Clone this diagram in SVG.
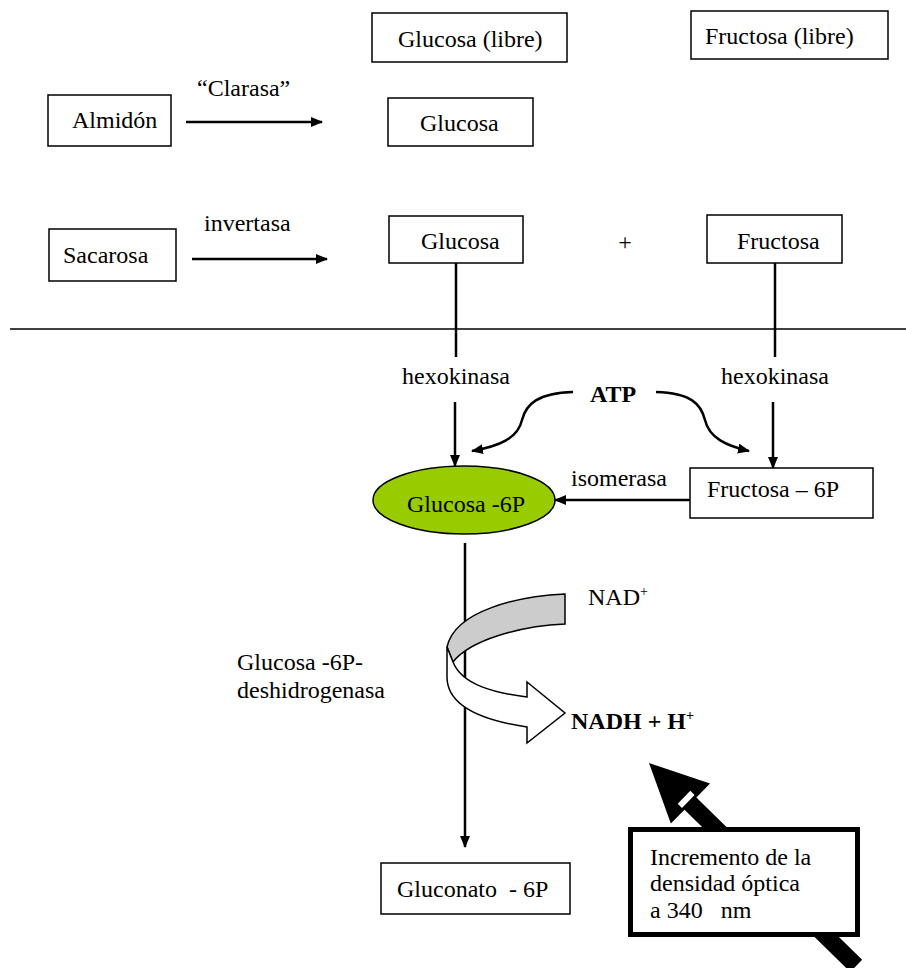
<svg xmlns="http://www.w3.org/2000/svg" width="906" height="968" viewBox="0 0 906 968">
<defs>
<style>
.t{font-family:"Liberation Serif","Times New Roman",serif;font-size:24px;fill:#000}
.b{font-weight:bold}
.box{fill:#fff;stroke:#000;stroke-width:1.5}
.ln{fill:none;stroke:#000;stroke-width:2.5}
.thin{fill:none;stroke:#000;stroke-width:1.5}
</style>
<marker id="ah" viewBox="0 0 12 10" refX="11" refY="5" markerWidth="12" markerHeight="10" markerUnits="userSpaceOnUse" orient="auto">
<path d="M0,0 L12,5 L0,10 Z" fill="#000"/>
</marker>
</defs>
<rect width="906" height="968" fill="#fff"/>

<g id="glucosa-libre"><rect class="box" x="372" y="13" width="195" height="49"/><text class="t" x="398" y="47">Glucosa (libre)</text></g>
<g id="fructosa-libre"><rect class="box" x="691" y="11" width="197" height="48"/><text class="t" x="705" y="44">Fructosa (libre)</text></g>
<g id="almidon"><rect class="box" x="48" y="95" width="123" height="51"/><text class="t" x="72" y="128">Almidón</text></g>
<g id="glucosa1"><rect class="box" x="388" y="98" width="145" height="48"/><text class="t" x="420" y="131">Glucosa</text></g>
<g id="sacarosa"><rect class="box" x="49" y="229" width="127" height="52"/><text class="t" x="63" y="263">Sacarosa</text></g>
<g id="glucosa2"><rect class="box" x="389" y="216" width="134" height="47"/><text class="t" x="421" y="249">Glucosa</text></g>
<g id="plus"><text class="t" x="625" y="250" text-anchor="middle">+</text></g>
<g id="fructosa2"><rect class="box" x="707" y="215" width="135" height="48"/><text class="t" x="737" y="249">Fructosa</text></g>
<g id="atp"><text class="t b" x="613" y="402" text-anchor="middle">ATP</text></g>
<g id="glucosa6p"><ellipse cx="464" cy="500" rx="91" ry="34" fill="#99CC00" stroke="#000" stroke-width="1.5"/><text class="t" x="466" y="512" text-anchor="middle">Glucosa -6P</text></g>
<g id="fructosa6p"><rect class="box" x="690" y="468" width="183" height="50"/><text class="t" x="707" y="497">Fructosa – 6P</text></g>
<g id="nadplus"><text class="t" x="588" y="605">NAD<tspan font-size="14" dy="-9">+</tspan></text></g>
<g id="nadh"><text class="t b" x="571" y="729" font-size="23">NADH + H<tspan font-size="14" dy="-9">+</tspan></text></g>
<g id="gluconato"><rect class="box" x="381" y="863" width="189" height="51"/><text class="t" x="397" y="897" xml:space="preserve">Gluconato  - 6P</text></g>

<g id="labels">
<text class="t" x="197" y="96">“Clarasa”</text>
<text class="t" x="204" y="231">invertasa</text>
<text class="t" x="456" y="384" text-anchor="middle">hexokinasa</text>
<text class="t" x="775" y="384" text-anchor="middle">hexokinasa</text>
<text class="t" x="571" y="486">isomerasa</text>
<text class="t" x="237" y="670">Glucosa -6P-</text>
<text class="t" x="237" y="698">deshidrogenasa</text>
</g>

<g id="connectors">
<line x1="10" y1="329" x2="906" y2="329" class="thin"/>
<line x1="186" y1="122" x2="322" y2="122" class="ln" marker-end="url(#ah)"/>
<line x1="192" y1="259" x2="327" y2="259" class="ln" marker-end="url(#ah)"/>
<line x1="456" y1="263" x2="456" y2="357" class="ln"/>
<line x1="775" y1="263" x2="775" y2="357" class="ln"/>
<line x1="455" y1="402" x2="455" y2="466" class="ln" marker-end="url(#ah)"/>
<line x1="773" y1="402" x2="773" y2="468" class="ln" marker-end="url(#ah)"/>
<path d="M573,392 C538,393 526,404 522,420 C518,438 500,446 472,451" class="ln" marker-end="url(#ah)"/>
<path d="M656,392 C691,393 701,404 705,420 C709,438 727,446 749,451" class="ln" marker-end="url(#ah)"/>
<line x1="690" y1="500" x2="555" y2="500" class="ln" marker-end="url(#ah)"/>
<line x1="465" y1="543" x2="465" y2="847" class="ln" marker-end="url(#ah)"/>
</g>

<g id="nad-arrow">
<path d="M565,594 C520,596 455,610 447,647 L453,662 C470,640 520,626 565,624 Z" fill="#ccc" stroke="#000" stroke-width="1.5"/>
<path d="M447,647 L453,662 C462,685 495,693 527,697 L527,682 L565,713 L527,743 L527,727 C480,720 447,705 447,677 Z" fill="#fff" stroke="#000" stroke-width="1.5"/>
</g>

<g id="od-arrow">
<g transform="translate(649,763) rotate(44.4)">
<polygon points="0,0 58,-28 58,-8.5 290,-8.5 290,8.5 58,8.5 58,28" fill="#000"/>
<rect x="49" y="-9" width="6" height="18" fill="#fff"/>
</g>
</g>
<g id="incremento">
<rect x="630.5" y="829.5" width="227" height="105" fill="#fff" stroke="#000" stroke-width="5"/>
<text class="t" x="650" y="865">Incremento de la</text>
<text class="t" x="650" y="891">densidad óptica</text>
<text class="t" x="650" y="918" xml:space="preserve">a 340   nm</text>
</g>
</svg>
